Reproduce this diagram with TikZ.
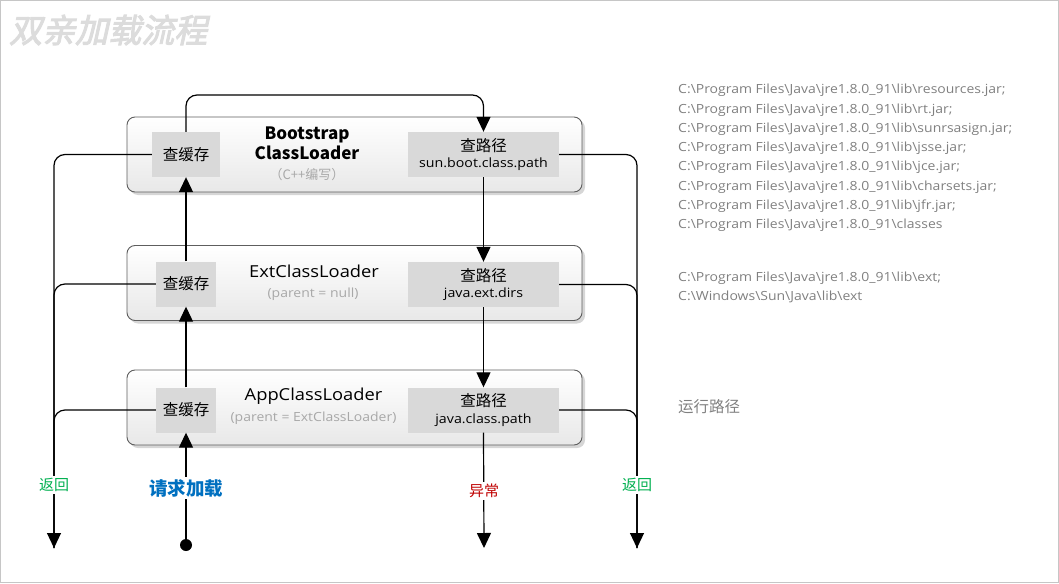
\documentclass[tikz,border=0pt]{standalone}
\usepackage{fontspec}
\setmainfont{Open Sans}[FakeStretch=1.11]
\newfontfamily\cjk{Noto Sans CJK SC}
\newfontfamily\titlefont{Noto Sans CJK SC}[FakeSlant=0.22,FakeBold=3]
\usetikzlibrary{arrows.meta,shadows}
\definecolor{framegray}{HTML}{C6C6C6}
\definecolor{titlegray}{HTML}{DCDCDC}
\definecolor{innergray}{HTML}{D9D9D9}
\definecolor{subgray}{HTML}{A8A8A8}
\definecolor{pathgray}{HTML}{808080}
\definecolor{retgreen}{HTML}{00B050}
\definecolor{reqblue}{HTML}{0070C0}
\definecolor{errred}{HTML}{C00000}
\definecolor{boxborder}{HTML}{5E5E5E}
\tikzset{
  loader/.style={draw=boxborder, line width=0.9pt, rounded corners=8pt, top color=white, bottom color=black!9,
    minimum width=455pt, minimum height=75pt, inner sep=0pt,
    drop shadow={shadow xshift=3pt, shadow yshift=-3pt, fill=black!16, opacity=1}},
  cachebox/.style={fill=innergray, inner sep=0pt, minimum height=45pt, font=\cjk\fontsize{15.5}{18}\selectfont},
  pathbox/.style={fill=innergray, inner sep=0pt, minimum width=151pt, minimum height=45pt, align=center},
  conn/.style={line width=1.2pt, black},
  arr/.style={conn, -{Triangle[width=14pt,length=15pt]}},
  lbl/.style={fill=white, inner sep=2pt},
  sidetext/.style={anchor=north west, align=left, text=pathgray, inner sep=0pt, font=\fontsize{12.6}{19.3}\selectfont},
}
\begin{document}
\begin{tikzpicture}[x=1pt,y=-1pt]
\useasboundingbox (0,0) rectangle (1059,583);
\draw[framegray, line width=1.2pt] (0.6,0.6) rectangle (1058.4,582.4);
\node[anchor=west, text=titlegray, font=\titlefont\fontsize{33}{35}\selectfont, inner sep=0pt] (title) at (9,30) {双亲加载流程};

% loader boxes
\node[loader] (boot) at (354.5,154.5) {};
\node[loader] (ext) at (354.5,283) {};
\node[loader] (app) at (354.5,407.5) {};

% inner boxes
\node[cachebox, minimum width=68pt] (bc) at (186,154.5) {查缓存};
\node[cachebox, minimum width=60pt] (ec) at (186,284) {查缓存};
\node[cachebox, minimum width=60pt] (ac) at (186,410) {查缓存};
\node[pathbox] (bp) at (483.5,154.5) {\cjk\fontsize{15.5}{18}\selectfont 查路径\\[4.5pt]\rmfamily\fontsize{12.8}{15}\selectfont sun.boot.class.path};
\node[pathbox] (ep) at (483.5,284.5) {\cjk\fontsize{15.5}{18}\selectfont 查路径\\[4.5pt]\rmfamily\fontsize{12.8}{15}\selectfont java.ext.dirs};
\node[pathbox] (ap) at (483.5,410) {\cjk\fontsize{15.5}{18}\selectfont 查路径\\[4.5pt]\rmfamily\fontsize{12.8}{15}\selectfont java.class.path};

% loader titles
\node[align=center, inner sep=0pt, font=\cjk\bfseries\fontsize{17}{20}\selectfont] (bt) at (307,143.5) {Bootstrap\\ClassLoader};
\node[inner sep=0pt, text=subgray, font=\cjk\fontsize{13}{15}\selectfont] (bs) at (307,175) {（C++编写）};
\node[inner sep=0pt, font=\fontsize{16.5}{20}\selectfont] (et) at (314,271) {ExtClassLoader};
\node[inner sep=0pt, text=subgray, font=\fontsize{12.6}{15}\selectfont] (es) at (313,294) {(parent = null)};
\node[inner sep=0pt, font=\fontsize{16.5}{20}\selectfont] (at) at (313.5,396) {AppClassLoader};
\node[inner sep=0pt, text=subgray, font=\fontsize{12.6}{15}\selectfont] (as) at (313.5,418) {(parent = ExtClassLoader)};

% side texts
\node[sidetext] (bootpaths) at (678,84) {C:\textbackslash Program Files\textbackslash Java\textbackslash jre1.8.0\_91\textbackslash lib\textbackslash resources.jar;\\
C:\textbackslash Program Files\textbackslash Java\textbackslash jre1.8.0\_91\textbackslash lib\textbackslash rt.jar;\\
C:\textbackslash Program Files\textbackslash Java\textbackslash jre1.8.0\_91\textbackslash lib\textbackslash sunrsasign.jar;\\
C:\textbackslash Program Files\textbackslash Java\textbackslash jre1.8.0\_91\textbackslash lib\textbackslash jsse.jar;\\
C:\textbackslash Program Files\textbackslash Java\textbackslash jre1.8.0\_91\textbackslash lib\textbackslash jce.jar;\\
C:\textbackslash Program Files\textbackslash Java\textbackslash jre1.8.0\_91\textbackslash lib\textbackslash charsets.jar;\\
C:\textbackslash Program Files\textbackslash Java\textbackslash jre1.8.0\_91\textbackslash lib\textbackslash jfr.jar;\\
C:\textbackslash Program Files\textbackslash Java\textbackslash jre1.8.0\_91\textbackslash classes};
\node[sidetext] (extpaths) at (678,271.5) {C:\textbackslash Program Files\textbackslash Java\textbackslash jre1.8.0\_91\textbackslash lib\textbackslash ext;\\
C:\textbackslash Windows\textbackslash Sun\textbackslash Java\textbackslash lib\textbackslash ext};
\node[anchor=west, inner sep=0pt, text=pathgray, font=\cjk\fontsize{15.5}{18}\selectfont] (apppath) at (678,407) {运行路径};

% coordinates
\coordinate (start) at (186,545);
\coordinate (loop) at (335,95);
\coordinate (retL) at (54,548);
\coordinate (retR) at (637,548);
\coordinate (errend) at (484,548);

% upward delegation
\fill (start) circle (6pt);
\draw[arr] (start) -- (ac.south);
\draw[arr] (ac.north) -- (ec.south);
\draw[arr] (ec.north) -- (bc.south);
\draw[arr, rounded corners=11pt] (bc.north) |- (loop) -| (bp.north);
\draw[arr] (bp.south) -- (ep.north);
\draw[arr] (ep.south) -- (ap.north);
\draw[arr] (ap.south) -- (errend);

% returns
\draw[conn, rounded corners=11pt] (ec.west) -| (retL);
\draw[conn, rounded corners=11pt] (ac.west) -| (retL);
\draw[arr, rounded corners=11pt] (bc.west) -| (retL);
\draw[conn, rounded corners=11pt] (ep.east) -| (retR);
\draw[conn, rounded corners=11pt] (ap.east) -| (retR);
\draw[arr, rounded corners=11pt] (bp.east) -| (retR);

% labels
\node[lbl, text=retgreen, font=\cjk\fontsize{15}{17}\selectfont] (rl) at (54,485) {返回};
\node[lbl, text=retgreen, font=\cjk\fontsize{15}{17}\selectfont] (rr) at (637,485) {返回};
\node[lbl, text=reqblue, font=\cjk\bfseries\fontsize{18.5}{20}\selectfont] (req) at (186,488) {请求加载};
\node[lbl, text=errred, font=\cjk\fontsize{15}{17}\selectfont] (err) at (484,491) {异常};
\end{tikzpicture}
\end{document}
